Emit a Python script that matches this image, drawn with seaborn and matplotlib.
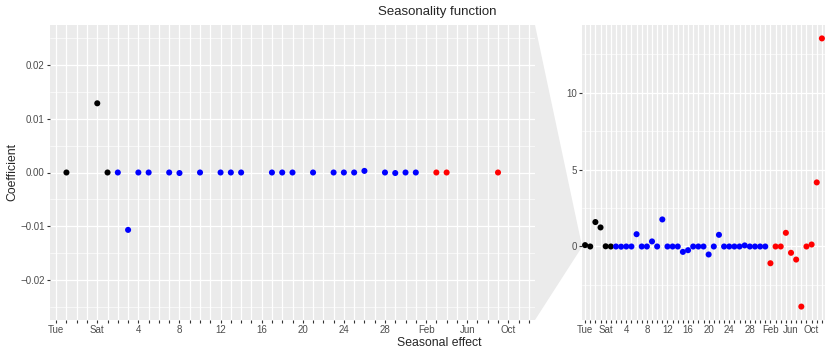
import matplotlib
matplotlib.use("Agg")
import pandas as pd
import matplotlib.pyplot as plt
import seaborn as sns
from matplotlib.patches import Polygon
from matplotlib.ticker import MultipleLocator, FuncFormatter
from matplotlib.transforms import blended_transform_factory

# Seasonal effect categories (baseline levels Mon, day 1 and Jan are dropped)
weekdays = ["Tue", "Wed", "Thu", "Fri", "Sat", "Sun"]
monthdays = ["2", "3", "4", "5", "6", "7", "8", "9", "10", "11", "12", "13", "14", "15",
             "16", "17", "18", "19", "20", "21", "22", "23", "24", "25", "26", "27", "28",
             "29", "30", "31"]
months = ["Feb", "Mar", "Apr", "May", "Jun", "Jul", "Aug", "Sep", "Oct", "Nov", "Dec"]

weekday_coef = [0.09, 0.0, 1.59, 1.24, 0.0129, 0.0]
monthday_coef = [0.0, -0.0107, 0.0, 0.0, 0.80, 0.0, -0.0001, 0.33, 0.0, 1.76, 0.0, 0.0,
                 0.0, -0.35, -0.24, 0.0, 0.0, 0.0, -0.52, 0.0, 0.76, 0.0, 0.0, 0.0,
                 0.0003, 0.07, 0.0, -0.0001, 0.0, 0.0]
month_coef = [-1.09, 0.0, 0.0, 0.89, -0.41, -0.85, -3.91, 0.0, 0.13, 4.17, 13.54]

zoom_ylim = (-0.0275, 0.0275)

categories = weekdays + monthdays + months
df = pd.DataFrame({
    "effect": categories,
    "coef": weekday_coef + monthday_coef + month_coef,
    "group": ["weekday"] * len(weekdays) + ["monthday"] * len(monthdays) + ["month"] * len(months),
})
palette = {"weekday": "black", "monthday": "blue", "month": "red"}

sns.set_theme(style="darkgrid", rc={
    "axes.facecolor": "#EBEBEB",
    "grid.color": "white",
    "axes.axisbelow": True,
})
plt.rcParams["font.family"] = ["Liberation Sans", "DejaVu Sans"]

fig = plt.figure(figsize=(8.3, 3.56), dpi=100)
ax_zoom = fig.add_axes([50 / 830, 36 / 356, 485 / 830, 295 / 356])
ax_full = fig.add_axes([582 / 830, 36 / 356, 243 / 830, 295 / 356])

minus = FuncFormatter(lambda v, p: f"{v:.2f}".replace("-", "\u2212"))
labels = [c if i % 4 == 0 else "" for i, c in enumerate(categories)]

for ax in (ax_zoom, ax_full):
    sns.scatterplot(data=df, x="effect", y="coef", hue="group", palette=palette,
                    s=19, linewidth=0, legend=False, ax=ax, zorder=3)
    ax.set_xticks(range(len(categories)))
    ax.set_xticklabels(labels)
    ax.set_xlim(-0.6, len(categories) - 0.4)
    ax.set_xlabel("")
    ax.set_ylabel("")
    for s in ax.spines.values():
        s.set_visible(False)
    ax.grid(which="major", linewidth=0.9)
    ax.grid(which="minor", axis="y", linewidth=0.45)
    ax.tick_params(which="major", length=2.2, width=0.8, color="#333333",
                   labelcolor="#4D4D4D", labelsize=7, pad=1.5, bottom=True, left=True)
    ax.tick_params(which="minor", length=0)

ax_zoom.set_ylim(*zoom_ylim)
ax_zoom.set_yticks([-0.02, -0.01, 0.0, 0.01, 0.02])
ax_zoom.yaxis.set_minor_locator(MultipleLocator(0.005))
ax_zoom.yaxis.set_major_formatter(minus)

ax_full.set_yticks([0, 5, 10])
ax_full.yaxis.set_minor_locator(MultipleLocator(2.5))
ax_full.set_ylim(-3.91 - 0.8725, 13.54 + 0.8725)

# zoom connector
to_fig = fig.transFigure.inverted()
blend = blended_transform_factory(ax_full.transAxes, ax_full.transData)
pts = [
    to_fig.transform(ax_zoom.transAxes.transform((1, 1))),
    to_fig.transform(blend.transform((0, zoom_ylim[1]))),
    to_fig.transform(blend.transform((0, zoom_ylim[0]))),
    to_fig.transform(ax_zoom.transAxes.transform((1, 0))),
]
fig.add_artist(Polygon(pts, closed=True, transform=fig.transFigure,
                       facecolor="#EBEBEB", edgecolor="none", zorder=0))

fig.text(437 / 830, 1 - 12 / 356, "Seasonality function", ha="center", va="center", fontsize=9.5)
fig.text(439 / 830, 1 - 343 / 356, "Seasonal effect", ha="center", va="center", fontsize=8.8)
fig.text(12 / 830, 1 - 172 / 356, "Coefficient", ha="center", va="center",
         rotation=90, fontsize=8.8)

fig.savefig("out.png", dpi=100)
